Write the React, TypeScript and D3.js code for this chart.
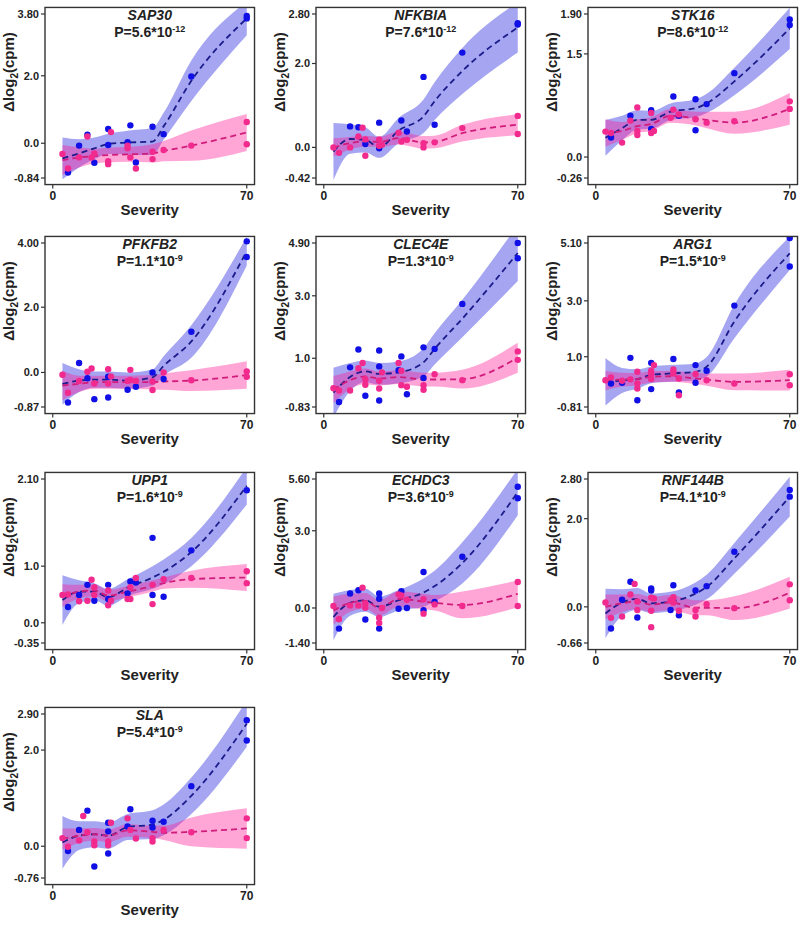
import React from "react";
import * as d3 from "d3";

const genes = ["SAP30", "NFKBIA", "STK16", "PFKFB2", "CLEC4E", "ARG1", "UPP1", "ECHDC3", "RNF144B", "SLA"];
const pMant = ["5.6", "7.6", "8.6", "1.1", "1.3", "1.5", "1.6", "3.6", "4.1", "5.4"];
const pExp = ["-12", "-12", "-12", "-9", "-9", "-9", "-9", "-9", "-9", "-9"];

const yTickVals = [
  [-1.03, 0, 2, 3.83],
  [-0.73, 0, 2, 3.18],
  [-0.305, 0, 1.5, 2.08],
  [-1.06, 0, 2, 3.97],
  [-0.56, 1, 3, 4.69],
  [-0.8, 1, 3, 5.07],
  [-0.357, 0, 1, 2.54],
  [-1.36, 0, 3, 5.01],
  [-0.82, 0, 2, 2.9],
  [-0.66, 0, 2, 2.75],
];
const yTickLabels = [
  ["-0.84", "0.0", "2.0", "3.80"],
  ["-0.42", "0.0", "2.0", "2.80"],
  ["-0.26", "0.0", "1.5", "1.90"],
  ["-0.87", "0.0", "2.0", "4.00"],
  ["-0.83", "1.0", "3.0", "4.90"],
  ["-0.81", "1.0", "3.0", "5.10"],
  ["-0.35", "0.0", "1.0", "2.10"],
  ["-1.40", "0.0", "3.0", "5.60"],
  ["-0.66", "0.0", "2.0", "2.80"],
  ["-0.76", "0.0", "2.0", "2.90"],
];
const xTicks = [0, 70];

const knots = [3.5, 9.5, 15, 20, 27, 36, 40, 50, 70];

const blueFit = [
  [-0.45, -0.3, -0.15, -0.02, 0.02, 0.05, 0.5, 1.85, 3.7],
  [-0.1, 0.2, 0.18, 0.0, 0.4, 0.74, 1.1, 1.82, 2.86],
  [0.28, 0.42, 0.54, 0.54, 0.66, 0.71, 0.78, 1.1, 1.87],
  [-0.35, -0.25, -0.22, -0.22, -0.25, -0.15, 0.2, 0.95, 3.72],
  [-0.1, 0.4, 0.58, 0.5, 0.55, 0.87, 1.3, 2.27, 4.37],
  [0.1, 0.15, 0.2, 0.35, 0.4, 0.46, 0.64, 2.26, 4.7],
  [0.4, 0.55, 0.55, 0.45, 0.62, 0.8, 0.9, 1.25, 2.42],
  [-0.35, 0.2, 0.3, 0.05, 0.3, 0.6, 0.85, 1.75, 4.5],
  [-0.15, 0.1, 0.18, 0.08, 0.12, 0.3, 0.45, 1.1, 2.5],
  [0.08, 0.22, 0.25, 0.22, 0.4, 0.45, 0.55, 1.05, 2.55],
];
const blueHW = [
  [0.62, 0.42, 0.32, 0.3, 0.35, 0.4, 0.4, 0.6, 0.5],
  [0.68, 0.35, 0.3, 0.25, 0.3, 0.4, 0.45, 0.55, 0.6],
  [0.26, 0.18, 0.14, 0.13, 0.12, 0.13, 0.14, 0.2, 0.3],
  [0.64, 0.35, 0.25, 0.25, 0.25, 0.25, 0.3, 0.5, 0.44],
  [0.8, 0.45, 0.35, 0.35, 0.35, 0.45, 0.5, 0.6, 0.9],
  [0.85, 0.45, 0.35, 0.3, 0.3, 0.3, 0.35, 0.6, 0.6],
  [0.44, 0.2, 0.15, 0.15, 0.15, 0.2, 0.22, 0.25, 0.33],
  [0.9, 0.5, 0.45, 0.4, 0.4, 0.55, 0.6, 0.8, 0.9],
  [0.56, 0.3, 0.25, 0.22, 0.22, 0.25, 0.28, 0.35, 0.45],
  [0.55, 0.3, 0.27, 0.27, 0.27, 0.3, 0.32, 0.38, 0.48],
];
const pinkFit = [
  [-0.5, -0.42, -0.38, -0.35, -0.33, -0.3, -0.23, -0.07, 0.32],
  [0.0, 0.1, 0.15, 0.13, 0.22, 0.12, 0.13, 0.34, 0.54],
  [0.35, 0.38, 0.45, 0.48, 0.6, 0.56, 0.54, 0.5, 0.7],
  [-0.4, -0.35, -0.3, -0.3, -0.3, -0.3, -0.28, -0.25, -0.08],
  [0.0, 0.3, 0.42, 0.35, 0.4, 0.32, 0.32, 0.33, 1.02],
  [0.15, 0.18, 0.2, 0.28, 0.3, 0.22, 0.18, 0.1, 0.16],
  [0.48, 0.55, 0.57, 0.48, 0.55, 0.65, 0.7, 0.77, 0.8],
  [-0.1, 0.2, 0.28, 0.0, 0.35, 0.25, 0.2, 0.12, 0.55],
  [0.0, 0.08, 0.12, 0.05, 0.1, -0.02, -0.02, -0.03, 0.32],
  [0.15, 0.22, 0.25, 0.22, 0.33, 0.3, 0.28, 0.3, 0.37],
];
const pinkHW = [
  [0.45, 0.3, 0.22, 0.22, 0.22, 0.27, 0.3, 0.45, 0.55],
  [0.22, 0.15, 0.13, 0.12, 0.15, 0.15, 0.15, 0.2, 0.25],
  [0.2, 0.13, 0.1, 0.1, 0.1, 0.1, 0.12, 0.16, 0.23],
  [0.45, 0.25, 0.2, 0.2, 0.2, 0.22, 0.25, 0.32, 0.42],
  [0.43, 0.28, 0.25, 0.22, 0.22, 0.22, 0.22, 0.3, 0.48],
  [0.35, 0.25, 0.22, 0.2, 0.2, 0.2, 0.22, 0.3, 0.37],
  [0.2, 0.12, 0.1, 0.1, 0.1, 0.1, 0.1, 0.15, 0.24],
  [0.55, 0.35, 0.3, 0.3, 0.3, 0.3, 0.3, 0.52, 0.52],
  [0.28, 0.2, 0.17, 0.17, 0.17, 0.17, 0.17, 0.27, 0.36],
  [0.22, 0.15, 0.13, 0.13, 0.13, 0.13, 0.15, 0.3, 0.42],
];

const bluePts = [
  [[5.5,-0.87],[9.5,-0.07],[12.5,0.25],[15,-0.58],[20,0.42],[20,-0.05],[27,0.03],[28,0.53],[30,-0.57],[36,0.49],[40,0.27],[50,1.98],[70,3.7],[70,3.77]],
  [[9.5,0.5],[12.5,0.48],[15,0.08],[20,0.59],[20,-0.02],[28,0.64],[30,0.38],[36,1.68],[40,0.54],[50,2.26],[70,2.96],[70,2.93]],
  [[5.5,0.285],[12.5,0.6],[20,0.68],[20,0.41],[28,0.88],[30,0.6],[36,0.84],[36,0.39],[40,0.77],[50,1.22],[70,2.0],[70,1.92]],
  [[5.5,-0.92],[9.5,0.29],[12.5,-0.18],[15,-0.82],[20,-0.13],[20,-0.77],[27,-0.53],[30,-0.44],[36,0.0],[40,-0.2],[50,1.25],[70,4.02],[70,3.54]],
  [[5.5,-0.4],[9.5,0.71],[12.5,1.28],[15,-0.2],[20,1.25],[20,0.74],[20,-0.35],[27,0.62],[28,1.06],[30,-0.15],[36,1.35],[36,0.37],[40,1.3],[50,2.74],[70,4.69],[70,4.2]],
  [[5.5,0.04],[9.5,0.07],[12.5,0.96],[15,-0.56],[20,0.78],[20,-0.16],[28,0.92],[30,-0.28],[36,0.7],[36,0.07],[40,0.5],[50,2.83],[70,5.25],[70,4.23]],
  [[5.5,0.28],[9.5,0.49],[12.5,0.67],[15,0.39],[20,0.67],[20,0.42],[27,0.52],[28,0.73],[30,0.71],[36,1.5],[36,0.49],[40,0.46],[50,1.28],[70,2.7],[70,2.34]],
  [[5.5,-0.8],[9.5,0.56],[12.5,0.69],[15,-0.45],[20,0.56],[20,0.36],[20,-0.8],[27,-0.03],[28,0.65],[30,0.0],[36,1.4],[36,-0.09],[40,0.23],[50,1.99],[70,4.71],[70,4.26]],
  [[5.5,-0.49],[9.5,0.16],[12.5,0.57],[15,-0.24],[20,0.42],[20,0.37],[27,-0.07],[28,0.49],[30,-0.19],[36,0.37],[40,0.47],[50,1.25],[70,2.65],[70,2.5]],
  [[5.5,-0.1],[9.5,0.34],[12.5,0.74],[15,-0.42],[20,0.49],[20,0.31],[20,-0.15],[27,0.41],[28,0.77],[36,0.39],[36,0.53],[40,0.51],[50,1.25],[70,2.62],[70,2.2]],
];

const pinkPts = [
  [[3.5,-0.32],[5.5,-0.75],[9.5,-0.42],[12.5,0.2],[14,-0.42],[15,-0.3],[20,-0.53],[20,-0.62],[21,0.33],[27,-0.15],[27,-0.07],[28,-0.42],[30,-0.75],[36,-0.25],[36,-0.47],[40,-0.2],[50,-0.07],[70,0.63],[70,-0.03]],
  [[3.5,0.0],[5.5,-0.13],[9.5,0.0],[12.5,0.26],[14,0.47],[15,0.19],[15,-0.2],[20,0.19],[20,0.04],[21,0.06],[27,0.35],[28,0.14],[30,0.18],[36,0.1],[36,0.0],[40,0.12],[50,0.46],[70,0.75],[70,0.32]],
  [[3.5,0.37],[5.5,0.35],[9.5,0.21],[12.5,0.53],[15,0.72],[15,0.38],[15,0.32],[20,0.64],[20,0.35],[21,0.38],[27,0.57],[28,0.69],[30,0.62],[36,0.55],[40,0.5],[50,0.52],[70,0.81],[70,0.7]],
  [[3.5,-0.07],[5.5,-0.62],[9.5,-0.26],[12.5,0.02],[14,0.12],[15,-0.34],[20,0.1],[20,-0.34],[21,-0.12],[27,-0.26],[28,0.08],[28,-0.23],[30,-0.26],[36,-0.28],[36,-0.54],[40,0.0],[50,-0.24],[70,0.03],[70,-0.13]],
  [[3.5,0.04],[5.5,-0.03],[9.5,-0.03],[12.5,0.68],[14,0.85],[15,0.33],[15,0.15],[20,0.28],[20,0.03],[21,0.55],[27,0.85],[28,0.6],[28,0.14],[30,0.09],[36,0.14],[36,-0.01],[40,0.49],[50,0.3],[70,1.22],[70,0.95]],
  [[3.5,0.16],[5.5,0.26],[9.5,0.14],[12.5,0.19],[15,0.46],[15,0.04],[15,-0.14],[20,0.5],[20,0.37],[20,0.2],[21,0.7],[28,0.54],[28,0.4],[30,0.22],[30,-0.38],[36,0.38],[40,0.16],[50,0.04],[70,0.37],[70,-0.02]],
  [[3.5,0.49],[5.5,0.5],[9.5,0.38],[12.5,0.39],[14,0.76],[15,0.63],[15,0.49],[20,0.57],[20,0.31],[21,0.39],[27,0.42],[28,0.63],[28,0.42],[30,0.79],[36,0.67],[36,0.33],[40,0.77],[50,0.79],[70,0.91],[70,0.7]],
  [[3.5,0.08],[5.5,-0.44],[9.5,0.1],[12.5,0.1],[14,0.79],[15,0.17],[15,0.01],[20,-0.38],[20,-0.58],[21,0.0],[27,0.53],[28,0.49],[30,0.32],[36,0.34],[36,-0.22],[40,0.14],[50,0.08],[70,1.01],[70,0.08]],
  [[3.5,0.1],[5.5,-0.25],[9.5,-0.22],[12.5,0.28],[14,0.52],[15,0.12],[15,-0.07],[20,0.21],[20,-0.09],[20,-0.46],[21,0.19],[27,0.15],[28,0.22],[28,0.1],[30,-0.09],[36,-0.07],[36,-0.22],[40,0.06],[50,-0.03],[70,0.51],[70,0.15]],
  [[3.5,0.17],[5.5,-0.01],[9.5,0.12],[11,0.63],[12.5,0.29],[15,0.1],[15,0.02],[20,0.1],[20,0.02],[21,0.49],[27,0.58],[28,0.34],[30,0.16],[36,0.17],[36,0.1],[40,0.34],[50,0.29],[70,0.58],[70,0.17]],
];

const colLeft = [45, 316, 588];
const rowTop = [14, 243, 479, 714];
const TICK_SPAN = 164;
const X_SPAN = 194;
const FONT = "'Liberation Sans', Arial, Helvetica, sans-serif";

const BLUE_BAND = "rgba(40,40,225,0.42)";
const PINK_BAND = "rgba(255,20,147,0.38)";
const BLUE_LINE = "#1c1c8c";
const PINK_LINE = "#d01c7c";
const BLUE_PT = "#1010e6";
const PINK_PT = "#f22a8e";

function Panel({ i }: { i: number }) {
  const L = colLeft[i % 3];
  const T = rowTop[Math.floor(i / 3)];
  const tv = yTickVals[i];
  const padX = X_SPAN * 0.04;
  const padY = TICK_SPAN * 0.04;
  const x = d3.scaleLinear().domain([0, 70]).range([L + padX, L + padX + X_SPAN]);
  const y = d3.scaleLinear().domain([tv[0], tv[tv.length - 1]]).range([T + TICK_SPAN, T]);
  const bx0 = L;
  const bx1 = x(70) + padX;
  const by0 = T - padY;
  const by1 = T + TICK_SPAN + padY;

  const rowsB = knots.map((k, j) => ({ k, f: blueFit[i][j], w: blueHW[i][j] }));
  const rowsP = knots.map((k, j) => ({ k, f: pinkFit[i][j], w: pinkHW[i][j] }));
  const area = d3
    .area<{ k: number; f: number; w: number }>()
    .x((d) => x(d.k))
    .y0((d) => y(d.f - d.w))
    .y1((d) => y(d.f + d.w))
    .curve(d3.curveMonotoneX);
  const line = d3
    .line<{ k: number; f: number; w: number }>()
    .x((d) => x(d.k))
    .y((d) => y(d.f))
    .curve(d3.curveMonotoneX);
  const cx = (bx0 + bx1) / 2;
  const clipId = `clip-${i}`;

  return (
    <g>
      <defs>
        <clipPath id={clipId}>
          <rect x={bx0} y={by0} width={bx1 - bx0} height={by1 - by0} />
        </clipPath>
      </defs>
      <g clipPath={`url(#${clipId})`}>
        <path d={area(rowsB) || ""} fill={BLUE_BAND} />
        <path d={area(rowsP) || ""} fill={PINK_BAND} />
        <path d={line(rowsB) || ""} fill="none" stroke={BLUE_LINE} strokeWidth={1.8} strokeDasharray="6,4" />
        <path d={line(rowsP) || ""} fill="none" stroke={PINK_LINE} strokeWidth={1.8} strokeDasharray="6,4" />
        {bluePts[i].map((p, j) => (
          <circle key={"b" + j} cx={x(p[0])} cy={y(p[1])} r={3.2} fill={BLUE_PT} />
        ))}
        {pinkPts[i].map((p, j) => (
          <circle key={"p" + j} cx={x(p[0])} cy={y(p[1])} r={3.2} fill={PINK_PT} />
        ))}
      </g>
      <rect x={bx0} y={by0} width={bx1 - bx0} height={by1 - by0} fill="none" stroke="#333" strokeWidth={1.4} />
      {tv.map((v, j) => (
        <g key={"yt" + j}>
          <line x1={bx0 - 4} x2={bx0} y1={y(v)} y2={y(v)} stroke="#333" strokeWidth={1.2} />
          <text
            x={bx0 - 6}
            y={y(v)}
            dy="0.36em"
            textAnchor="end"
            fontFamily={FONT}
            fontWeight="bold"
            fontSize={11}
            fill="#222"
          >
            {yTickLabels[i][j]}
          </text>
        </g>
      ))}
      {xTicks.map((v, j) => (
        <g key={"xt" + j}>
          <line x1={x(v)} x2={x(v)} y1={by1} y2={by1 + 4} stroke="#333" strokeWidth={1.2} />
          <text x={x(v)} y={by1 + 15} textAnchor="middle" fontFamily={FONT} fontWeight="bold" fontSize={12} fill="#222">
            {v}
          </text>
        </g>
      ))}
      <text x={cx} y={by1 + 30} textAnchor="middle" fontFamily={FONT} fontWeight="bold" fontSize={15} fill="#222">
        Severity
      </text>
      <text
        transform={`translate(${L - 31.5},${T + 58}) rotate(-90)`}
        textAnchor="middle"
        fontFamily={FONT}
        fontWeight="bold"
        fontSize={15}
        fill="#222"
      >
        Δlog
        <tspan fontSize={10} dy={4}>2</tspan>
        <tspan dy={-4}>(cpm)</tspan>
      </text>
      <text x={cx} y={T + 6} textAnchor="middle" fontFamily={FONT} fontWeight="bold" fontStyle="italic" fontSize={14} fill="#222">
        {genes[i]}
      </text>
      <text x={cx} y={T + 23} textAnchor="middle" fontFamily={FONT} fontWeight="bold" fontSize={14} fill="#222">
        {`P=${pMant[i]}*10`}
        <tspan fontSize={9} dy={-5}>{pExp[i]}</tspan>
      </text>
    </g>
  );
}

export default function App() {
  return (
    <svg
      width={800}
      height={926}
      viewBox="0 0 800 926"
      style={{ position: "absolute", left: 0, top: 0, background: "#fff" }}
    >
      <rect width={800} height={926} fill="#fff" />
      {genes.map((g, i) => (
        <Panel key={g} i={i} />
      ))}
    </svg>
  );
}
